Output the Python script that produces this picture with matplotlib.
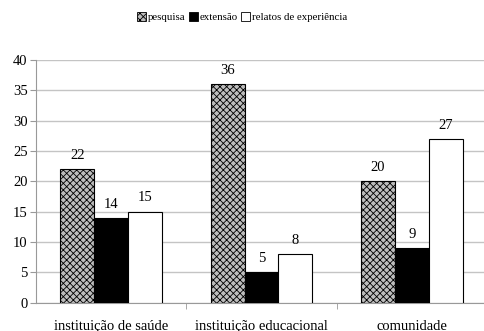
import numpy as np
import matplotlib.pyplot as plt
from matplotlib.patches import Patch

plt.rcParams['font.family'] = ['Liberation Serif', 'DejaVu Serif']
plt.rcParams['hatch.linewidth'] = 0.6

categories = ['instituição de saúde', 'instituição educacional', 'comunidade']
series = ['pesquisa', 'extensão', 'relatos de experiência']
pesquisa = [22, 36, 20]
extensao = [14, 5, 9]
relatos = [15, 8, 27]

fig = plt.figure(figsize=(4.85, 3.31), dpi=100)
ax = fig.add_axes([0.074, 0.085, 0.93, 0.734])

x = np.arange(len(categories))
w = 0.225
styles = [dict(facecolor='#bdbdbd', hatch='xxxxx'),
          dict(facecolor='black', hatch=None),
          dict(facecolor='white', hatch=None)]

for i, vals in enumerate([pesquisa, extensao, relatos]):
    bars = ax.bar(x + (i - 1) * w, vals, w, edgecolor='black', linewidth=0.8,
                  zorder=3, **styles[i])
    for b, v in zip(bars, vals):
        ax.text(b.get_x() + b.get_width() / 2, v + 1.2, str(v),
                ha='center', va='bottom', fontsize=10.5)

ax.set_ylim(0, 40)
ax.set_xlim(-0.5, 2.5)
ax.set_yticks(range(0, 41, 5))
ax.yaxis.grid(True, color='#c4c4c4', linewidth=1)
ax.set_axisbelow(True)
ax.set_xticks(x)
ax.set_xticklabels(categories, fontsize=10.5)
ax.set_xticks([0.5, 1.5], minor=True)
ax.tick_params(axis='x', which='major', length=0, pad=12)
ax.tick_params(axis='x', which='minor', length=4, color='#999999')
ax.tick_params(axis='y', length=4, color='#999999', labelsize=10.5, pad=2)
for s in ['top', 'right']:
    ax.spines[s].set_visible(False)
for s in ['left', 'bottom']:
    ax.spines[s].set_color('#999999')

handles = [Patch(edgecolor='black', linewidth=0.6, **styles[i]) for i in range(3)]
fig.legend(handles, series, loc='center', bbox_to_anchor=(0.5, 0.948), ncol=3,
           frameon=False, fontsize=7.8, handlelength=0.8, handleheight=0.8,
           handletextpad=0.2, columnspacing=0.3)

fig.savefig('out.png', dpi=100)
